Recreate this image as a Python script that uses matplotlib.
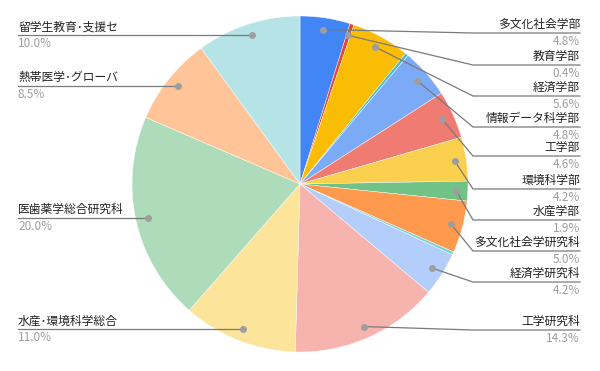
import numpy as np
import matplotlib
matplotlib.use('Agg')
from matplotlib import pyplot as plt

plt.rcParams['font.family'] = ['Noto Sans CJK JP', 'DejaVu Sans']

# slice data, clockwise from 12 o'clock (two tiny unlabeled slices included)
names = ['多文化社会学部', '教育学部', '経済学部', '', '情報データ科学部', '工学部',
         '環境科学部', '水産学部', '多文化社会学研究科', '', '経済学研究科', '工学研究科',
         '水産･環境科学総合', '医歯薬学総合研究科', '熱帯医学･グローバ', '留学生教育･支援セ']
shares = [4.8, 0.4, 5.6, 0.3, 4.8, 4.6, 4.2, 1.9, 5.0, 0.3, 4.2, 14.3, 11.0, 20.0, 8.5, 10.0]
pct_labels = ['4.8%', '0.4%', '5.6%', '', '4.8%', '4.6%', '4.2%', '1.9%', '5.0%', '',
              '4.2%', '14.3%', '11.0%', '20.0%', '8.5%', '10.0%']
colors = ['#4285f4', '#ea4335', '#fbbc04', '#46bdc6', '#7baaf7', '#f07b72', '#fcd04f',
          '#71c287', '#ff994d', '#7ed1d7', '#b3cefb', '#f7b4ae', '#fde49b', '#aedcba',
          '#ffc599', '#b5e3e6']

W, H = 600, 371
fig = plt.figure(figsize=(6, 3.71), dpi=100)
ax = fig.add_axes([0, 0, 1, 1])

cx, cy, r = 300, H - 184, 168
wedges, _ = ax.pie(shares, colors=colors, startangle=90, counterclock=False,
                   center=(cx, cy), radius=r, frame=True,
                   wedgeprops=dict(edgecolor='white', linewidth=0.3))
ax.set_xlim(0, W)
ax.set_ylim(0, H)
ax.set_aspect('equal')
ax.axis('off')

# y of label underline (pixels from top) for right-side labels
right_slots = [33, 65, 96, 127, 156, 189, 220, 251, 282, 330]
right_i = 0
for w, name, pct in zip(wedges, names, pct_labels):
    if not name:
        continue
    mid = np.deg2rad((w.theta1 + w.theta2) / 2)
    dx, dy = cx + 0.93 * r * np.cos(mid), cy + 0.93 * r * np.sin(mid)
    if dx >= cx:
        ly = H - right_slots[right_i]
        right_i += 1
        ax.plot([dx, 473, 580], [dy, ly, ly], color='#7a7a7a', lw=0.9, zorder=3)
        ax.text(580, ly + 2, name, ha='right', va='bottom', fontsize=8.5, color='#222222')
        ax.text(580, ly - 2, pct, ha='right', va='top', fontsize=8.5, color='#9e9e9e')
    else:
        ly = dy
        ax.plot([dx, 18], [dy, ly], color='#7a7a7a', lw=0.9, zorder=3)
        ax.text(18, ly + 2, name, ha='left', va='bottom', fontsize=8.5, color='#222222')
        ax.text(18, ly - 2, pct, ha='left', va='top', fontsize=8.5, color='#9e9e9e')
    ax.plot(dx, dy, 'o', color='#9e9e9e', ms=4, zorder=4)

fig.savefig('out.png', dpi=100)
